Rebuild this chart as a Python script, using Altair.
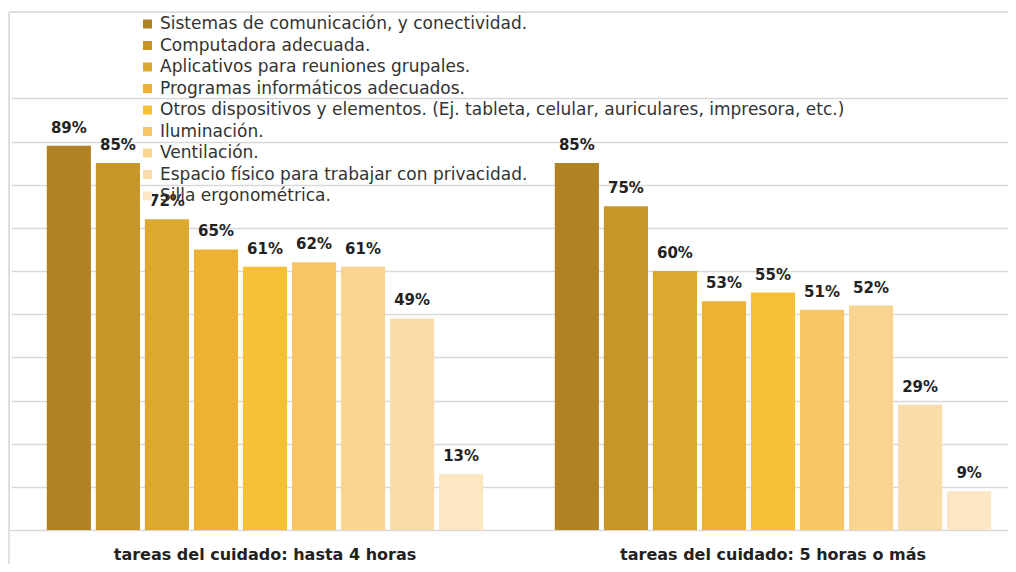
import altair as alt
import pandas as pd

groups = ["tareas del cuidado: hasta 4 horas", "tareas del cuidado: 5 horas o más"]
items = [
    "Sistemas de comunicación, y conectividad.",
    "Computadora adecuada.",
    "Aplicativos para reuniones grupales.",
    "Programas informáticos adecuados.",
    "Otros dispositivos y elementos. (Ej. tableta, celular, auriculares, impresora, etc.)",
    "Iluminación.",
    "Ventilación.",
    "Espacio físico para trabajar con privacidad.",
    "Silla ergonométrica.",
]
vals_4h = [89, 85, 72, 65, 61, 62, 61, 49, 13]
vals_5h = [85, 75, 60, 53, 55, 51, 52, 29, 9]
colors = ["#B08223", "#C89628", "#DCA832", "#EDB234", "#F6C034",
          "#F7C664", "#FAD491", "#FADCAA", "#FCE6C3"]

rows = []
for g, vals in zip(groups, [vals_4h, vals_5h]):
    for it, v in zip(items, vals):
        rows.append({"grupo": g, "item": it, "valor": v})
df = pd.DataFrame(rows)

FONT = "DejaVu Sans"
W, H = 999, 518
PB = 34

base = alt.Chart(df).encode(
    x=alt.X("grupo:N", sort=groups,
            scale=alt.Scale(paddingInner=0, paddingOuter=0, range=[2, 1018]),
            axis=alt.Axis(title=None, labelAngle=0, labelFont=FONT, labelFontWeight="bold",
                          labelFontSize=16, labelColor="#222", ticks=False, domain=False,
                          labelPadding=16, grid=False, labelLimit=600)),
    xOffset=alt.XOffset("item:N", sort=items,
                        scale=alt.Scale(paddingInner=0.1, paddingOuter=0.73)),
    y=alt.Y("valor:Q", scale=alt.Scale(domain=[0, 120]),
            axis=alt.Axis(title=None, labels=False, ticks=False, domain=False,
                          values=list(range(0, 101, 10)), gridColor="#d9d9d9", gridWidth=1.5)),
)

bars = base.mark_bar().encode(
    color=alt.Color("item:N", sort=items,
                    scale=alt.Scale(domain=items, range=colors),
                    legend=alt.Legend(title=None, orient="none", legendX=130, legendY=3.5,
                                      symbolType="square", symbolSize=81, symbolStrokeWidth=0,
                                      labelFont=FONT, labelFontSize=17, labelColor="#333",
                                      labelOffset=4, rowPadding=3.5, padding=0,
                                      labelLimit=900))
)

text = base.mark_text(baseline="alphabetic", dy=-13, font=FONT, fontWeight="bold",
                      fontSize=15, color="#222").transform_calculate(
    lab="datum.valor + '%'"
).encode(text="lab:N")

frame_df = pd.DataFrame({"a": [0]})
top_rule = alt.Chart(frame_df).mark_rule(color="#d9d9d9", strokeWidth=1.5, clip=False).encode(
    x=alt.value(0), x2=alt.value(W + 20), y=alt.value(0))
left_rule = alt.Chart(frame_df).mark_rule(color="#d9d9d9", strokeWidth=1.5, clip=False).encode(
    x=alt.value(0), y=alt.value(0), y2=alt.value(H + PB))

chart = alt.layer(bars, text, top_rule, left_rule).properties(
    width=W, height=H,
    autosize=alt.AutoSizeParams(type="none"),
    padding={"left": 1, "top": 4, "right": 0, "bottom": PB},
).configure_view(stroke="transparent", strokeWidth=0).configure(background="white")

chart.save("out.html", embed_options={"renderer": "svg", "actions": False})
